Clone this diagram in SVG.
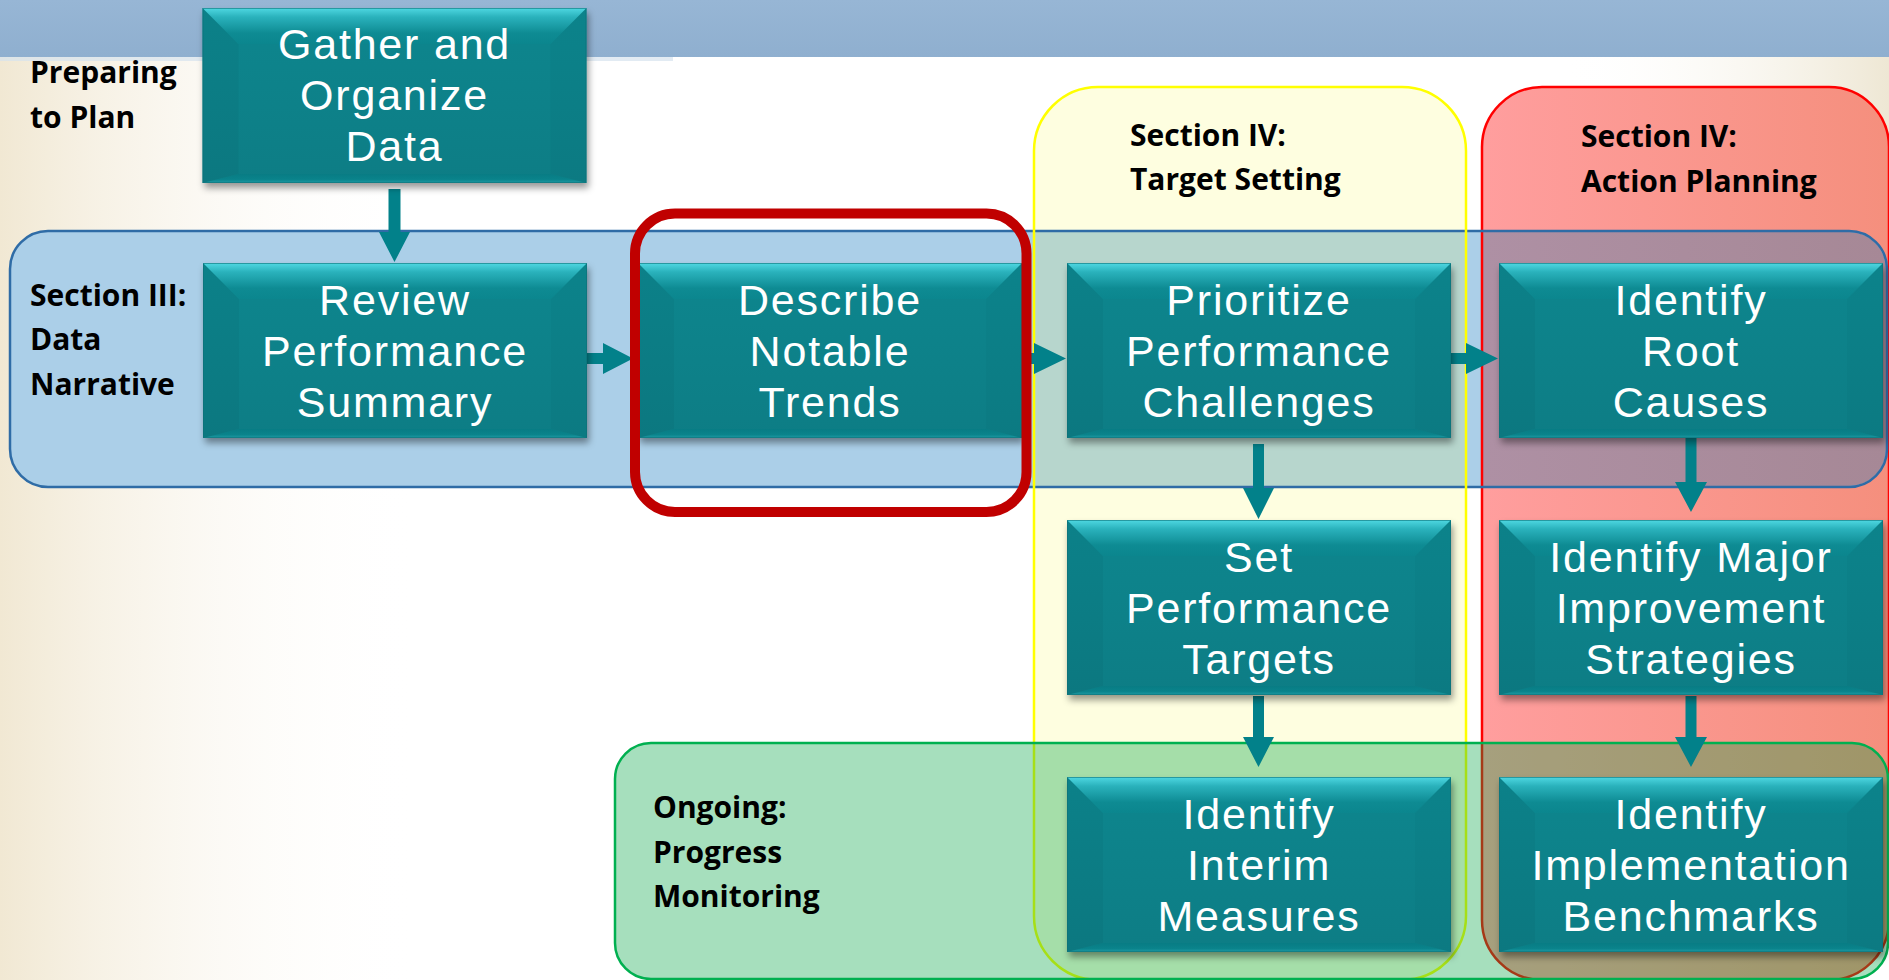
<svg xmlns="http://www.w3.org/2000/svg" xmlns:xlink="http://www.w3.org/1999/xlink" width="1889" height="980" viewBox="0 0 1889 980">
  <defs>
    <style>
      .node-text { font-family: "Liberation Sans", Arial, sans-serif; font-size: 43px; fill: #ffffff; text-anchor: middle; letter-spacing: 1.8px; }
      .label { font-family: "Open Sans", "Liberation Sans", sans-serif; font-weight: 700; font-size: 30px; fill: #000000; }
      .arrow { fill: #02818A; }
    </style>
    <!-- page background tints -->
    <linearGradient id="bgLeft" x1="0" y1="0" x2="1" y2="0">
      <stop offset="0" stop-color="#F1E8D3" stop-opacity="1"/>
      <stop offset="1" stop-color="#FFFFFF" stop-opacity="0"/>
    </linearGradient>
    <linearGradient id="bgRight" x1="0" y1="0" x2="1" y2="0">
      <stop offset="0" stop-color="#FFFFFF" stop-opacity="0"/>
      <stop offset="1" stop-color="#EEE7D4" stop-opacity="1"/>
    </linearGradient>
    <linearGradient id="band" x1="0" y1="0" x2="0" y2="1">
      <stop offset="0" stop-color="#97B6D5"/>
      <stop offset="1" stop-color="#8FAFCF"/>
    </linearGradient>
    <!-- container fills -->
    <linearGradient id="redFill" x1="0" y1="0" x2="1" y2="0">
      <stop offset="0" stop-color="#FF9E9E"/>
      <stop offset="1" stop-color="#F58F7D"/>
    </linearGradient>
    <linearGradient id="blueRedFill" x1="0" y1="0" x2="1" y2="0">
      <stop offset="0" stop-color="#AE90A4"/>
      <stop offset="1" stop-color="#A68896"/>
    </linearGradient>
    <!-- process box shading -->
    <linearGradient id="face" x1="0" y1="0" x2="0" y2="1">
      <stop offset="0" stop-color="#0B868E"/>
      <stop offset="1" stop-color="#087D85"/>
    </linearGradient>
    <linearGradient id="topBevel" x1="0" y1="0" x2="0" y2="1">
      <stop offset="0" stop-color="#4FD8E2"/>
      <stop offset="0.25" stop-color="#2AB2BC"/>
      <stop offset="0.7" stop-color="#0E8B93"/>
      <stop offset="1" stop-color="#0B868E"/>
    </linearGradient>
    <linearGradient id="bottomBevel" x1="0" y1="0" x2="0" y2="1">
      <stop offset="0" stop-color="#087C84"/>
      <stop offset="0.6" stop-color="#0A838B"/>
      <stop offset="1" stop-color="#1E9AA3"/>
    </linearGradient>
    <filter id="shadow" x="-10%" y="-10%" width="125%" height="135%">
      <feDropShadow dx="2" dy="5" stdDeviation="3.5" flood-color="#000000" flood-opacity="0.4"/>
    </filter>
    <!-- bevelled process box, 384 x 175 -->
    <g id="box">
      <rect x="0" y="0" width="384" height="175" fill="url(#face)" filter="url(#shadow)"/>
      <polygon points="0,0 36,36 36,166 0,175" fill="#000000" fill-opacity="0.035"/>
      <polygon points="384,0 348,36 348,166 384,175" fill="#000000" fill-opacity="0.02"/>
      <polygon points="0,175 36,166 348,166 384,175" fill="url(#bottomBevel)"/>
      <polygon points="0,0 384,0 348,36 36,36" fill="url(#topBevel)"/>
      <rect x="0.5" y="0.5" width="383" height="174" fill="none" stroke="#0E6F77" stroke-width="1" stroke-opacity="0.6"/>
    </g>
  </defs>

  <!-- background -->
  <rect x="0" y="0" width="1889" height="980" fill="#FFFFFF"/>
  <rect x="0" y="0" width="420" height="980" fill="url(#bgLeft)"/>
  <rect x="1560" y="40" width="329" height="260" fill="url(#bgRight)"/>
  <rect x="0" y="0" width="1889" height="57" fill="url(#band)"/>
  <rect x="0" y="57" width="673" height="4" fill="#D6E2EE" fill-opacity="0.7"/>

  <!-- section containers -->
  <g id="containers">
    <rect id="target-setting-fill" x="1034" y="87" width="432" height="893" rx="64" fill="#FEFEE0"/>
    <rect id="action-planning-fill" x="1482" y="87" width="407" height="893" rx="60" fill="url(#redFill)"/>
    <rect id="data-narrative" x="10" y="231" width="1877" height="256" rx="38" fill="#ABCFE8"/>
    <rect x="1035" y="232" width="430" height="254" fill="#B7D6CD"/>
    <path d="M1483,232 H1849 A37,37 0 0 1 1886,269 V449 A37,37 0 0 1 1849,486 H1483 Z" fill="url(#blueRedFill)"/>
    <rect x="1482" y="87" width="407" height="893" rx="60" fill="none" stroke="#FF0000" stroke-width="2.5"/>
    <rect x="10" y="231" width="1877" height="256" rx="38" fill="none" stroke="#2F6CA6" stroke-width="2.5"/>
    <rect id="target-setting" x="1034" y="87" width="432" height="893" rx="64" fill="none" stroke="#FFFF00" stroke-width="2.5"/>
    <rect id="progress-monitoring" x="615" y="743" width="1273" height="236" rx="36" fill="rgb(0,164,66)" fill-opacity="0.35" stroke="#00B050" stroke-width="2.5"/>
  </g>

  <!-- section labels -->
  <g id="labels">
    <text class="label" x="30" y="83">Preparing</text>
    <text class="label" x="30" y="128">to Plan</text>
    <text class="label" x="30" y="306">Section III:</text>
    <text class="label" x="30" y="350">Data</text>
    <text class="label" x="30" y="395">Narrative</text>
    <text class="label" x="1130" y="146">Section IV:</text>
    <text class="label" x="1130" y="190">Target Setting</text>
    <text class="label" x="1581" y="147">Section IV:</text>
    <text class="label" x="1581" y="192">Action Planning</text>
    <text class="label" x="653" y="818">Ongoing:</text>
    <text class="label" x="653" y="863">Progress</text>
    <text class="label" x="653" y="907">Monitoring</text>
  </g>

  <!-- connectors -->
  <g id="connectors">
    <polygon class="arrow" points="388.5,189 400.5,189 400.5,232 410,232 394.5,262 379,232 388.5,232"/>
    <polygon class="arrow" points="587,353 603,353 603,343 633,358.5 603,374 603,364 587,364"/>
    <polygon class="arrow" points="1022,353 1034,353 1034,343 1066,358.5 1034,374 1034,364 1022,364"/>
    <polygon class="arrow" points="1451,353 1466,353 1466,343 1498,358.5 1466,374 1466,364 1451,364"/>
    <polygon class="arrow" points="1253,444 1264,444 1264,488 1274,488 1258.5,519 1243,488 1253,488"/>
    <polygon class="arrow" points="1685.5,438 1696.5,438 1696.5,482 1707,482 1691,512 1675,482 1685.5,482"/>
    <polygon class="arrow" points="1253,696 1264,696 1264,737 1274,737 1258.5,767 1243,737 1253,737"/>
    <polygon class="arrow" points="1685.5,696 1696.5,696 1696.5,737 1707,737 1691,767 1675,737 1685.5,737"/>
  </g>

  <!-- process steps -->
  <g id="gather-data">
    <use href="#box" x="202.5" y="8"/>
    <text class="node-text" x="394.5" y="59">Gather and</text>
    <text class="node-text" x="394.5" y="110">Organize</text>
    <text class="node-text" x="394.5" y="161">Data</text>
  </g>
  <g id="review-summary">
    <use href="#box" x="203" y="263"/>
    <text class="node-text" x="395" y="315">Review</text>
    <text class="node-text" x="395" y="366">Performance</text>
    <text class="node-text" x="395" y="417">Summary</text>
  </g>
  <g id="describe-trends">
    <use href="#box" x="638" y="263"/>
    <text class="node-text" x="830" y="315">Describe</text>
    <text class="node-text" x="830" y="366">Notable</text>
    <text class="node-text" x="830" y="417">Trends</text>
  </g>
  <g id="prioritize-challenges">
    <use href="#box" x="1067" y="263"/>
    <text class="node-text" x="1259" y="315">Prioritize</text>
    <text class="node-text" x="1259" y="366">Performance</text>
    <text class="node-text" x="1259" y="417">Challenges</text>
  </g>
  <g id="root-causes">
    <use href="#box" x="1499" y="263"/>
    <text class="node-text" x="1691" y="315">Identify</text>
    <text class="node-text" x="1691" y="366">Root</text>
    <text class="node-text" x="1691" y="417">Causes</text>
  </g>
  <g id="set-targets">
    <use href="#box" x="1067" y="520"/>
    <text class="node-text" x="1259" y="572">Set</text>
    <text class="node-text" x="1259" y="623">Performance</text>
    <text class="node-text" x="1259" y="674">Targets</text>
  </g>
  <g id="improvement-strategies">
    <use href="#box" x="1499" y="520"/>
    <text class="node-text" x="1691" y="572">Identify Major</text>
    <text class="node-text" x="1691" y="623">Improvement</text>
    <text class="node-text" x="1691" y="674">Strategies</text>
  </g>
  <g id="interim-measures">
    <use href="#box" x="1067" y="777"/>
    <text class="node-text" x="1259" y="829">Identify</text>
    <text class="node-text" x="1259" y="880">Interim</text>
    <text class="node-text" x="1259" y="931">Measures</text>
  </g>
  <g id="implementation-benchmarks">
    <use href="#box" x="1499" y="777"/>
    <text class="node-text" x="1691" y="829">Identify</text>
    <text class="node-text" x="1691" y="880">Implementation</text>
    <text class="node-text" x="1691" y="931">Benchmarks</text>
  </g>

  <!-- highlight around the current step -->
  <g id="highlight">
    <rect x="635" y="213.5" width="391.5" height="298.5" rx="40" fill="none" stroke="#C00000" stroke-width="10"/>
  </g>
</svg>
